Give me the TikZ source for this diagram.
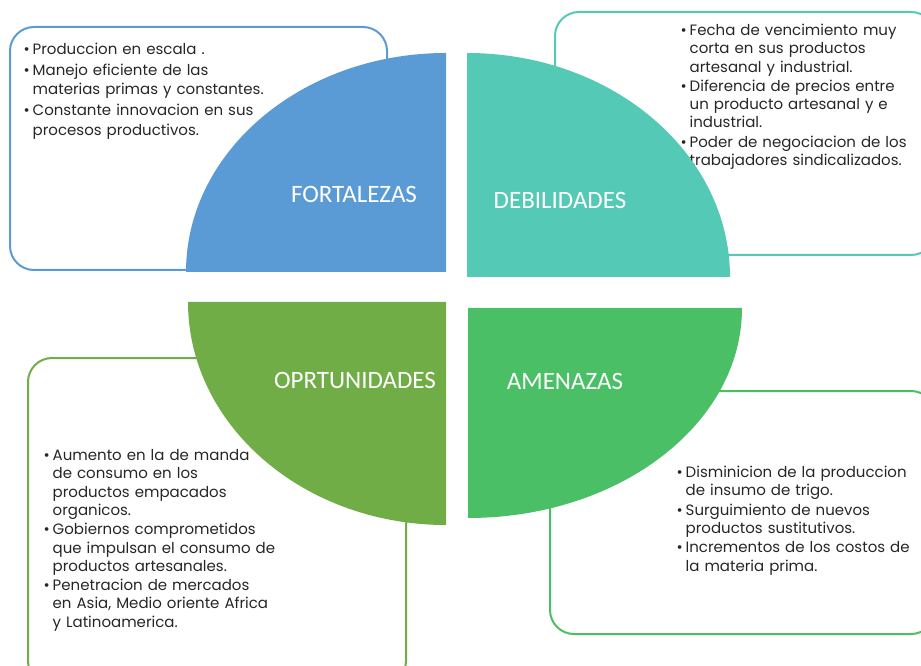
\documentclass[tikz,border=0pt]{standalone}
\usepackage{fontspec}
\setmainfont{Poppins}
\newfontfamily\fuenterotulo{Carlito}
\usepackage{enumitem}

\definecolor{azulF}{HTML}{5B9BD5}
\definecolor{turqD}{HTML}{53C9B6}
\definecolor{verdeO}{HTML}{70AD47}
\definecolor{verdeA}{HTML}{4ABF66}
\definecolor{texto}{HTML}{262626}

\newcommand{\puntos}[1]{%
  \begin{itemize}[label=\textbullet, leftmargin=9.5pt, labelsep=3pt,
    itemsep=1pt, topsep=0pt, parsep=0pt, partopsep=0pt]
  #1
  \end{itemize}}

\begin{document}
\begin{tikzpicture}[
        x=1pt, y=1pt,
        caja/.style={line width=2pt, rounded corners=24pt},
        rotulo/.style={text=white, font=\fuenterotulo\fontsize{25}{29}\selectfont},
        lista/.style={anchor=north west, inner sep=0pt, text width=#1,
            text=texto, font=\fontsize{15}{18.3}\selectfont}
        ]
        \useasboundingbox (0,0) rectangle (921,665);

        % cajas con los puntos de cada cuadrante
        \draw[caja, draw=azulF]  (10,395)  rectangle (387,638);
        \draw[caja, draw=turqD]  (555,410) rectangle (935,653);
        \draw[caja, draw=verdeO] (28,-20)  rectangle (406,307);
        \draw[caja, draw=verdeA] (550,31)  rectangle (935,274);

        \node (txtfort) [lista=320pt, font=\fontsize{15}{19.6}\selectfont] at (23,630) {\puntos{
            \item Produccion en escala .
            \item Manejo eficiente de las\\ materias primas y constantes.
            \item Constante innovacion en sus\\ procesos productivos.}};
        \node (txtdeb) [lista=260pt] at (680,648) {\puntos{
            \item Fecha de vencimiento muy\\ corta en sus productos\\ artesanal y industrial.
            \item Diferencia de precios entre\\ un producto artesanal y e\\ industrial.
            \item Poder de negociacion de los\\ trabajadores sindicalizados.}};
        \node (txtopor) [lista=320pt] at (43,223) {\puntos{
            \item Aumento en la de manda\\ de consumo en los\\ productos empacados\\ organicos.
            \item Gobiernos comprometidos\\ que impulsan el consumo de\\ productos artesanales.
            \item Penetracion de mercados\\ en Asia, Medio oriente Africa\\ y Latinoamerica.}};
        \node (txtamen) [lista=260pt] at (676,206) {\puntos{
            \item Disminicion de la produccion\\ de insumo de trigo.
            \item Surguimiento de nuevos\\ productos sustitutivos.
            \item Incrementos de los costos de\\ la materia prima.}};

        % cuadrantes
        \fill[azulF]  (446,393) -- (186,393) arc[start angle=180, end angle=90, x radius=260, y radius=219] -- cycle;
        \fill[turqD]  (467,388) -- (467,612) arc[start angle=90, end angle=0, x radius=263, y radius=224] -- cycle;
        \fill[verdeO] (446,363) -- (188,363) arc[start angle=180, end angle=270, x radius=258, y radius=223] -- cycle;
        \fill[verdeA] (468,357) -- (742,357) arc[start angle=0, end angle=-90, x radius=274, y radius=210] -- cycle;

        \node (fortalezas)  [rotulo] at (354,471) {FORTALEZAS};
        \node (debilidades) [rotulo] at (560,465) {DEBILIDADES};
        \node (oportunidades) [rotulo] at (355,285) {OPRTUNIDADES};
        \node (amenazas)    [rotulo] at (565,284) {AMENAZAS};
    \end{tikzpicture}
\end{document}
